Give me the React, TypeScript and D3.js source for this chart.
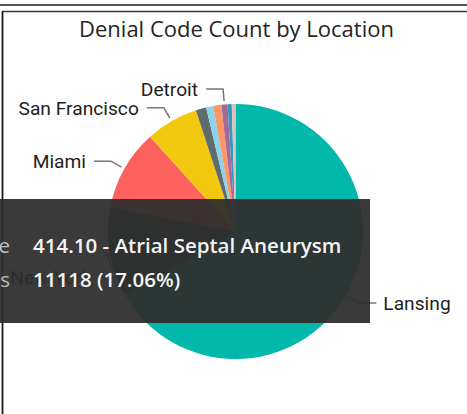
import React from "react";
import * as d3 from "d3";

// ---- data ----
const locations = ["Lansing", "New York", "Miami", "San Francisco", "", "", "", "Detroit", "", ""];
const counts = [43450, 7420, 6700, 4330, 870, 580, 670, 510, 345, 305];
const sliceColors = ["#01B8AA", "#374649", "#FD625E", "#F2C80F", "#5F6B6D", "#8AD4EB", "#FE9666", "#A66999", "#3599B8", "#DFBFBF"];
const labelledLocations = ["Lansing", "New York", "Miami", "San Francisco", "Detroit"];
const chartTitle = "Denial Code Count by Location";
const tooltipLabels = ["Denial Code", "Denial Codes"];
const tooltipValues = ["414.10 - Atrial Septal Aneurysm", "11118 (17.06%)"];

const W = 467;
const H = 414;
const cx = 235.5;
const cy = 231.5;
const R = 127.5;

// label collision nudges (layout only)
const labelNudge: Record<string, [number, number]> = { "New York": [22, 22] };

export default function App() {
  const rows = locations.map((name, i) => ({ name, value: counts[i], color: sliceColors[i], i }));
  const pie = d3.pie<any>().sort(null).value((d) => d.value).startAngle(0).endAngle(2 * Math.PI);
  const arcs = pie(rows);
  const arcGen = d3.arc<any>().innerRadius(0).outerRadius(R);
  const anchorArc = d3.arc<any>().innerRadius(R + 3.5).outerRadius(R + 3.5);
  const elbowArc = d3.arc<any>().innerRadius(R + 15.5).outerRadius(R + 15.5);

  const labelFont = "Roboto, 'DejaVu Sans', sans-serif";
  const tipFont = "'Segoe UI', 'Open Sans', 'Noto Sans', sans-serif";

  return (
    <svg width={W} height={H} style={{ position: "absolute", left: 0, top: 0 }}>
      <rect x={0} y={0} width={W} height={H} fill="#ffffff" />
      {/* frame */}
      <line x1={0} x2={W} y1={5} y2={5} stroke="#1a1a1a" strokeWidth={1.6} />
      <line x1={2} x2={W} y1={11.5} y2={11.5} stroke="#3a3a3a" strokeWidth={1.6} />
      <line x1={2.5} x2={2.5} y1={11} y2={H} stroke="#1a1a1a" strokeWidth={1.8} />

      <text x={cx + 1} y={37} textAnchor="middle" fontFamily={tipFont} fontSize={22} fill="#252423">
        {chartTitle}
      </text>

      <g transform={`translate(${cx},${cy})`}>
        {arcs.map((a) => (
          <path key={a.data.i} d={arcGen(a) as string} fill={a.data.color} />
        ))}
        {arcs
          .filter((a) => labelledLocations.includes(a.data.name))
          .map((a) => {
            const [ax, ay] = anchorArc.centroid(a);
            const [exRaw, eyRaw] = elbowArc.centroid(a);
            const nudge = labelNudge[a.data.name] || [0, 0];
            const ex = exRaw + nudge[0];
            const ey = eyRaw + nudge[1];
            const left = ex < 0;
            const hx = ex + (left ? -17 : 17);
            const tx = hx + (left ? -8 : 7);
            return (
              <g key={"l" + a.data.i}>
                <polyline
                  points={`${ax},${ay} ${ex},${ey} ${hx},${ey}`}
                  fill="none"
                  stroke="#777777"
                  strokeWidth={1.5}
                />
                <text
                  x={tx}
                  y={ey}
                  dy="0.36em"
                  textAnchor={left ? "end" : "start"}
                  fontFamily={labelFont}
                  fontSize={19.2}
                  fontWeight={400}
                  fill="#1f1e1d"
                >
                  {a.data.name}
                </text>
              </g>
            );
          })}
      </g>

      {/* tooltip */}
      <g>
        <rect x={-10} y={199} width={380} height={124} fill="#2e2e2e" opacity={0.94} />
        {tooltipLabels.map((t, i) => (
          <text
            key={"tl" + i}
            x={10}
            y={253 + i * 33.5}
            textAnchor="end"
            fontFamily={tipFont}
            fontSize={20.5}
            fill="#bdbdbd"
          >
            {t}
          </text>
        ))}
        {tooltipValues.map((t, i) => (
          <text
            key={"tv" + i}
            x={33}
            y={253 + i * 33.5}
            fontFamily={tipFont}
            fontSize={20.5}
            fontWeight={600}
            fill="#f4f4f4"
          >
            {t}
          </text>
        ))}
      </g>
    </svg>
  );
}
